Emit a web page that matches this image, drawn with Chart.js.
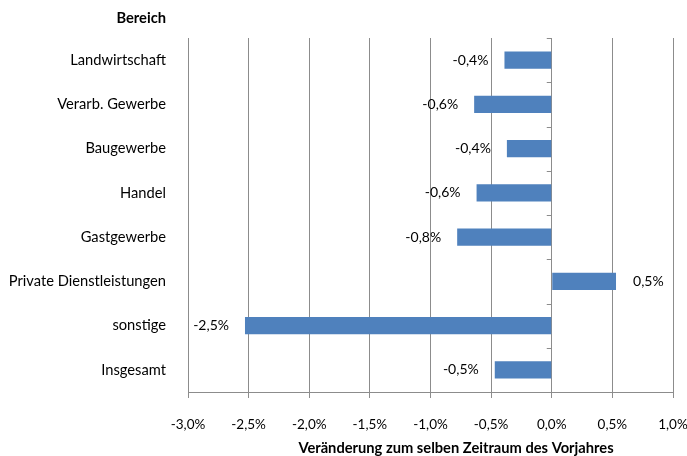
<!DOCTYPE html>
<html>
<head>
<meta charset="utf-8">
<script src="https://cdn.jsdelivr.net/npm/chart.js@4"></script>
<style>
  html, body { margin: 0; padding: 0; background: #fff; }
  #wrap { width: 687px; height: 456px; }
</style>
</head>
<body>
<div id="wrap"><canvas id="chart"></canvas></div>
<script>
// Data
const categories = ['Landwirtschaft', 'Verarb. Gewerbe', 'Baugewerbe', 'Handel', 'Gastgewerbe',
    'Private Dienstleistungen', 'sonstige', 'Insgesamt'];
const changes = [-0.39, -0.64, -0.37, -0.62, -0.78, 0.53, -2.53, -0.47];
const xTicks = [-3.0, -2.5, -2.0, -1.5, -1.0, -0.5, 0.0, 0.5, 1.0];
const xTitle = 'Veränderung zum selben Zeitraum des Vorjahres';

const FONT = 'Lato, "Open Sans", sans-serif';
const gridColor = '#8c8c8c';

function pct(v) {
    return v.toFixed(1).replace('.', ',') + '%';
}

// Bar value labels, headers and tick marks on the zero axis
const extras = {
    id: 'extras',
    afterDatasetsDraw(chart) {
        const ctx = chart.ctx;
        const area = chart.chartArea;
        const x = chart.scales.x;
        ctx.save();

        // small ticks on the zero line between categories
        const x0 = x.getPixelForValue(0);
        const step = (area.bottom - area.top) / categories.length;
        ctx.strokeStyle = gridColor;
        ctx.lineWidth = 1;
        for (let i = 0; i <= categories.length; i++) {
            const yy = Math.round(area.top + i * step) + 0.5;
            ctx.beginPath();
            ctx.moveTo(x0 - 5, yy);
            ctx.lineTo(x0, yy);
            ctx.stroke();
        }

        // value labels
        ctx.fillStyle = '#000';
        ctx.font = '14px ' + FONT;
        ctx.textBaseline = 'middle';
        chart.getDatasetMeta(0).data.forEach((bar, i) => {
            const v = changes[i];
            if (v < 0) {
                ctx.textAlign = 'right';
                ctx.fillText(pct(v), bar.x - 16, bar.y);
            } else {
                ctx.textAlign = 'left';
                ctx.fillText(pct(v), bar.x + 17, bar.y);
            }
        });

        // header above the category labels
        ctx.font = 'bold 14.7px ' + FONT;
        ctx.textAlign = 'right';
        ctx.fillText('Bereich', area.left - 22, 18);

        // x axis title (sits a bit right of the plot centre in the original)
        ctx.textAlign = 'center';
        ctx.fillText(xTitle, 456, 448);
        ctx.restore();
    }
};

new Chart(document.getElementById('chart'), {
    type: 'bar',
    data: {
        labels: categories,
        datasets: [{
            data: changes,
            backgroundColor: '#4f81bd',
            barPercentage: 0.39,
            categoryPercentage: 1.0
        }]
    },
    options: {
        indexAxis: 'y',
        responsive: true,
        maintainAspectRatio: false,
        animation: false,
        layout: { padding: { top: 38, right: 0, bottom: 0, left: 0 } },
        plugins: {
            legend: { display: false },
            tooltip: { enabled: false }
        },
        scales: {
            x: {
                min: -3,
                max: 1,
                afterBuildTicks: (axis) => { axis.ticks = xTicks.map(v => ({ value: v })); },
                afterFit: (axis) => { axis.paddingLeft = 0; axis.paddingRight = 14; axis.height = 64; },
                grid: { color: gridColor, lineWidth: 1, tickLength: 6 },
                border: { color: gridColor, width: 1 },
                ticks: {
                    color: '#000',
                    font: { family: FONT, size: 13.5 },
                    padding: 19,
                    maxRotation: 0,
                    callback: (v) => pct(v)
                }
            },
            y: {
                afterFit: (axis) => { axis.width = 188; },
                grid: { display: false },
                border: { display: false },
                ticks: {
                    color: '#000',
                    font: { family: FONT, size: 14.7 },
                    padding: 14
                }
            }
        }
    },
    plugins: [extras]
});
</script>
</body>
</html>
